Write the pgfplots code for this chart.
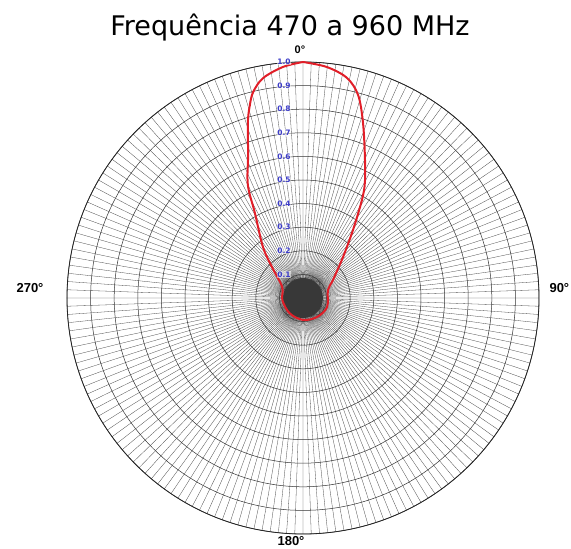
\documentclass[border=0pt]{standalone}
\usepackage{pgfplots}
\pgfplotsset{compat=1.18}
\usepgfplotslibrary{polar}
\usepackage{fontspec}
\setmainfont{DejaVu Sans}
\newfontfamily\arialf{Liberation Sans}
\definecolor{lobered}{RGB}{225,30,40}
\definecolor{scaleblue}{RGB}{60,60,200}
\tikzset{scalelbl/.style={scaleblue, font=\bfseries\fontsize{7.5}{8}\selectfont, xshift=-19pt, fill=white, fill opacity=0.5, text opacity=1, inner sep=0.5pt}}
\begin{document}
\begin{tikzpicture}[x=1pt,y=1pt]
\useasboundingbox (0,0) rectangle (571,549);
\node[font=\fontsize{27}{30}\selectfont, anchor=base] at (290,513) {Frequência 470 a 960 MHz};
\begin{polaraxis}[
  at={(303pt,251pt)}, anchor=center,
  width=472pt, height=472pt, scale only axis,
  ymin=0, ymax=1,
  xtick={0,2,...,358},
  ytick={0.1,0.2,0.3,0.4,0.5,0.6,0.7,0.8,0.9,1.0},
  xticklabels={,,}, yticklabels={,,},
  xticklabel style={opacity=0}, yticklabel style={opacity=0},
  major tick length=0pt,
  grid=major,
  major x grid style={black!72, line width=0.3pt},
  major y grid style={black!80, line width=0.5pt},
  x axis line style={black!85, line width=0.8pt},
  y axis line style={draw=none},
  clip=false,
]
\addplot[fill=black!78, draw=none, smooth] coordinates {
 (0,0.085) (30,0.085) (60,0.085) (90,0.085) (120,0.085) (150,0.085)
 (180,0.085) (210,0.085) (240,0.085) (270,0.085) (300,0.085) (330,0.085) (360,0.085)} -- cycle;
\addplot[lobered, line width=2pt, smooth, tension=0.55] coordinates {
 (90,1.0) (94.9,0.983) (100.3,0.947) (103.6,0.898) (105.4,0.848)
 (107.4,0.781) (111.0,0.649) (116.0,0.533) (119.5,0.414) (128.1,0.275)
 (135,0.186) (152,0.100) (185.7,0.088) (229,0.086) (270,0.093)
 (306.4,0.100) (339.4,0.109) (377.7,0.111) (391,0.148) (405.7,0.243)
 (413.7,0.358) (419,0.485) (421.9,0.557) (426.6,0.660) (431.2,0.788)
 (434.8,0.891) (438.7,0.951) (444.1,0.984) (450,1.0)};
\node[scalelbl] at (axis cs:90,1.0) {1.0};
\node[scalelbl] at (axis cs:90,0.9) {0.9};
\node[scalelbl] at (axis cs:90,0.8) {0.8};
\node[scalelbl] at (axis cs:90,0.7) {0.7};
\node[scalelbl] at (axis cs:90,0.6) {0.6};
\node[scalelbl] at (axis cs:90,0.5) {0.5};
\node[scalelbl] at (axis cs:90,0.4) {0.4};
\node[scalelbl] at (axis cs:90,0.3) {0.3};
\node[scalelbl] at (axis cs:90,0.2) {0.2};
\node[scalelbl] at (axis cs:90,0.1) {0.1};
\end{polaraxis}
\node[font=\arialf\bfseries\fontsize{11}{12}\selectfont] at (300,499) {0°};
\node[font=\arialf\bfseries\fontsize{13}{14}\selectfont] at (30,261) {270°};
\node[font=\arialf\bfseries\fontsize{13}{14}\selectfont, anchor=west] at (546,261) {90°};
\node[font=\arialf\bfseries\fontsize{13}{14}\selectfont] at (291,8) {180°};
\end{tikzpicture}
\end{document}
